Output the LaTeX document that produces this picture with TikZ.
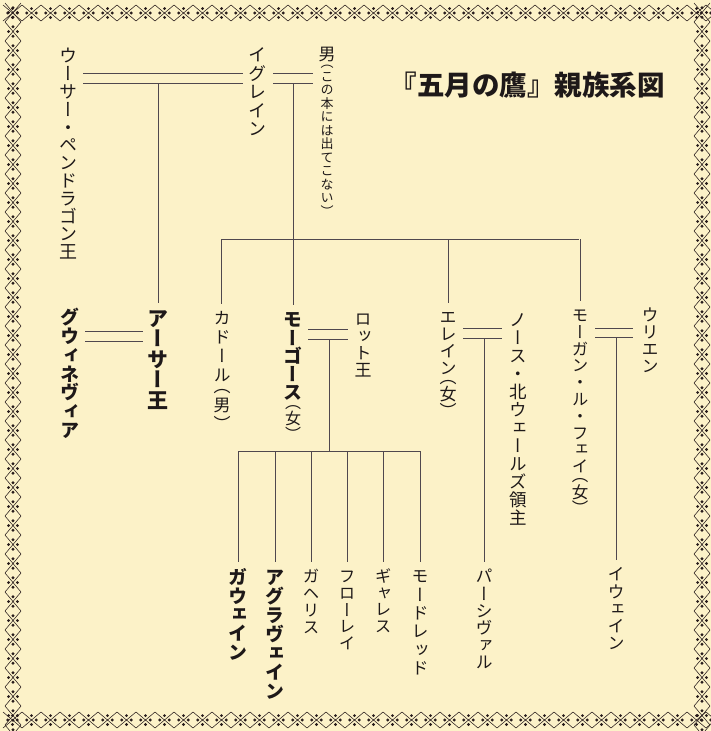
\documentclass[tikz,border=0pt]{standalone}
\usepackage{fontspec}
\newfontfamily\jp{Noto Sans CJK JP}
\newfontfamily\vjp[RawFeature=+vert]{Noto Sans CJK JP}
\definecolor{paper}{RGB}{252,242,200}
\definecolor{ink}{RGB}{30,25,25}
\definecolor{lineink}{RGB}{80,72,78}
\definecolor{bord}{RGB}{40,28,28}

\ExplSyntaxOn
\cs_new:Npn \vtchar #1 { \hbox_to_wd:nn {1em} { \hss \vrule height .88em depth .12em width 0pt #1 \hss } }
\NewDocumentCommand\vt{O{}mmm}{
  \vbox:n {
    \vjp #1 \fontsize{#2}{#3}\selectfont
    \baselineskip=#3\relax
    \lineskiplimit=-100pt\relax
    \lineskip=0pt\relax
    \tl_map_inline:nn {#4} {
      \str_case:nnF {##1} {
        {（} { \kern-0.5em \vtchar{##1} }
        {）} { \vtchar{##1} \kern-0.5em }
      } { \vtchar{##1} }
    }
  }
}
\ExplSyntaxOff

\tikzset{
  vn/.style={inner sep=0pt, outer sep=0pt, text=ink, anchor=north},
  ln/.style={draw=lineink, line width=0.7pt},
  bd/.style={draw=bord, line width=0.55pt},
  dt/.style={fill=bord},
}

\begin{document}
\begin{tikzpicture}[x=1pt,y=-1pt]
\useasboundingbox (0,0) rectangle (711,731);
\fill[paper] (0,0) rectangle (711,731);

% border: zigzag chain of crosses with dots, period 19
\foreach \i in {0,...,37} {
  % top band y 5..21
  \draw[bd] (3+19*\i,5) -- (22+19*\i,21) (3+19*\i,21) -- (22+19*\i,5);
  \fill[dt] (12.5+19*\i,8.6) circle (1.6) (12.5+19*\i,17.4) circle (1.6)
            (-1.75+19*\i,13) circle (1.6) (7.75+19*\i,13) circle (1.6);
  % bottom band y 712..728
  \draw[bd] (3+19*\i,712) -- (22+19*\i,728) (3+19*\i,728) -- (22+19*\i,712);
  \fill[dt] (12.5+19*\i,715.6) circle (1.6) (12.5+19*\i,724.4) circle (1.6)
            (-1.75+19*\i,720) circle (1.6) (7.75+19*\i,720) circle (1.6);
}
\foreach \i in {0,...,38} {
  % left band x 5..21
  \draw[bd] (5,3+19*\i) -- (21,22+19*\i) (21,3+19*\i) -- (5,22+19*\i);
  \fill[dt] (8.6,12.5+19*\i) circle (1.6) (17.4,12.5+19*\i) circle (1.6)
            (13,-1.75+19*\i) circle (1.6) (13,7.75+19*\i) circle (1.6);
  % right band x 694..710
  \draw[bd] (694,3+19*\i) -- (710,22+19*\i) (710,3+19*\i) -- (694,22+19*\i);
  \fill[dt] (697.6,12.5+19*\i) circle (1.6) (706.4,12.5+19*\i) circle (1.6)
            (702,-1.75+19*\i) circle (1.6) (702,7.75+19*\i) circle (1.6);
}

% title
\node[text=ink, inner sep=0pt] (title) at (527,85)
  {\jp\bfseries\fontsize{27.5pt}{27.5pt}\selectfont 『五月の鷹』親族系図};

% names
\node[vn] (uther) at (68,47) {\vt{18pt}{17.8pt}{ウーサー・ペンドラゴン王}};
\node[vn] (igraine) at (257,46) {\vt{18pt}{18.5pt}{イグレイン}};
\node[vn] (man) at (327,46) {\vt{17pt}{17pt}{男}};
\node[vn] (mannote) at (327,63) {\vt{13pt}{13.5pt}{（この本には出てこない）}};
\node[vn] (cador) at (222,310) {\vt{17pt}{19pt}{カドール（男）}};
\node[vn] (arthur) at (158,308) {\vt[\bfseries]{21pt}{20.5pt}{アーサー王}};
\node[vn] (guin) at (70,308) {\vt[\bfseries]{19pt}{18.8pt}{グウィネヴィア}};
\node[vn] (morgause) at (293,310) {\vt[\bfseries]{19pt}{18.3pt}{モーゴース}};
\node[vn] (morgausef) at (morgause.south) {\vt{16pt}{16pt}{（女）}};
\node[vn] (lot) at (363,311) {\vt{17pt}{17pt}{ロット王}};
\node[vn] (elaine) at (448,309) {\vt{17pt}{17pt}{エレイン（女）}};
\node[vn] (north) at (518,311) {\vt{17.5pt}{18pt}{ノース・北ウェールズ領主}};
\node[vn] (morgan) at (580,307) {\vt{16.5pt}{16.8pt}{モーガン・ル・フェイ（女）}};
\node[vn] (urien) at (650,307) {\vt{17pt}{17pt}{ウリエン}};
\node[vn] (gawain) at (238,568) {\vt[\bfseries]{19pt}{18.6pt}{ガウェイン}};
\node[vn] (agravain) at (275,568) {\vt[\bfseries]{19pt}{18.9pt}{アグラヴェイン}};
\node[vn] (gaheris) at (311,568) {\vt{16.5pt}{17pt}{ガヘリス}};
\node[vn] (florence) at (347,568) {\vt{16.5pt}{16.8pt}{フローレイ}};
\node[vn] (gareth) at (383,568) {\vt{16.5pt}{16.5pt}{ギャレス}};
\node[vn] (mordred) at (420,568) {\vt{17pt}{18.3pt}{モードレッド}};
\node[vn] (percival) at (484,568) {\vt{17pt}{17.2pt}{パーシヴァル}};
\node[vn] (ywain) at (616,566) {\vt{17pt}{17.2pt}{イウェイン}};

% junction coordinates
\coordinate (ua1) at (83,73);  \coordinate (ua2) at (243,73);
\coordinate (ub1) at (83,83);  \coordinate (ub2) at (243,83);
\coordinate (ia1) at (273,73); \coordinate (ia2) at (313,73);
\coordinate (ib1) at (273,83); \coordinate (ib2) at (313,83);
\coordinate (jU) at (158,83);
\coordinate (jI) at (293,83);
\coordinate (s1) at (221,239); \coordinate (s2) at (579,239);
\coordinate (aa1) at (85,331);  \coordinate (aa2) at (143,331);
\coordinate (ab1) at (85,341);  \coordinate (ab2) at (143,341);
\coordinate (ma1) at (308,329); \coordinate (ma2) at (348,329);
\coordinate (mb1) at (308,339); \coordinate (mb2) at (348,339);
\coordinate (jM) at (329,339);
\coordinate (k1) at (238,451); \coordinate (k2) at (420,451);
\coordinate (ea1) at (463,328); \coordinate (ea2) at (502,328);
\coordinate (eb1) at (463,338); \coordinate (eb2) at (502,338);
\coordinate (jE) at (484,338);
\coordinate (oa1) at (595,328); \coordinate (oa2) at (633,328);
\coordinate (ob1) at (595,337); \coordinate (ob2) at (633,337);
\coordinate (jO) at (616,337);

% marriage lines
\draw[ln] (ua1) -- (ua2) (ub1) -- (ub2);
\draw[ln] (ia1) -- (ia2) (ib1) -- (ib2);
\draw[ln] (aa1) -- (aa2) (ab1) -- (ab2);
\draw[ln] (ma1) -- (ma2) (mb1) -- (mb2);
\draw[ln] (ea1) -- (ea2) (eb1) -- (eb2);
\draw[ln] (oa1) -- (oa2) (ob1) -- (ob2);

% descent lines
\draw[ln, shorten >=5pt] (jU) -- (jU |- arthur.north);
\draw[ln, shorten >=5pt] (jI) -- (jI |- morgause.north);
\draw[ln] (s1) -- (s2);
\draw[ln, shorten >=6pt] (s1) -- (s1 |- cador.north);
\draw[ln, shorten >=6pt] (elaine.north |- s1) -- (elaine.north);
\draw[ln, shorten >=6pt] (morgan.north |- s1) -- (morgan.north);
\draw[ln] (jM) -- (jM |- k1);
\draw[ln] (k1) -- (k2);
\foreach \c in {gawain,agravain,gaheris,florence,gareth,mordred}
  \draw[ln, shorten >=6pt] (\c.north |- k1) -- (\c.north);
\draw[ln, shorten >=6pt] (jE) -- (jE |- percival.north);
\draw[ln, shorten >=6pt] (jO) -- (jO |- ywain.north);
\end{tikzpicture}
\end{document}
